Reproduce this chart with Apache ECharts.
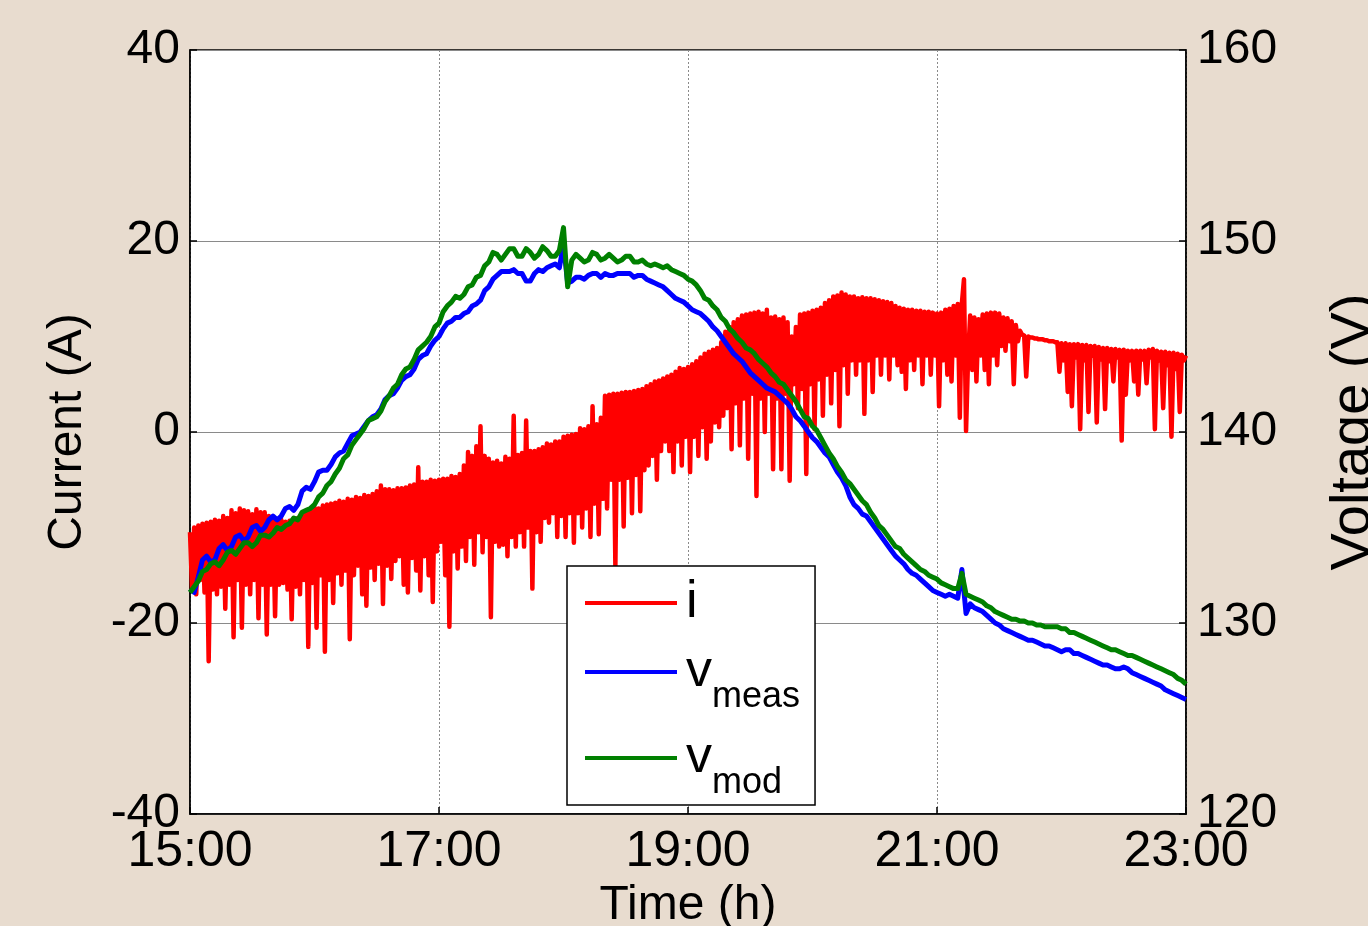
<!DOCTYPE html>
<html>
<head>
<meta charset="utf-8">
<title>Current and voltage</title>
<script src="https://cdn.jsdelivr.net/npm/echarts@6/dist/echarts.min.js"></script>
<style>
  html, body { margin: 0; padding: 0; background: #e8dccf; }
  #chart { width: 1368px; height: 926px; }
</style>
</head>
<body>
<div id="chart"></div>
<script>
// sampling of the logged series, minutes after 15:00
const CURRENT_STEP_MIN = 1
const VOLTAGE_STEP_MIN = 2

const xTickLabels = ["15:00", "17:00", "19:00", "21:00", "23:00"]
const seriesNames = ["i", "v_meas", "v_mod"]

// current i (A), one value per minute, 20 per row
const current = [
  -10.5, -16.5, -10.0, -17.0, -9.8, -15.5, -9.6, -16.8, -9.5, -24.0, -9.4, -16.5, -9.2, -17.0, -9.3, -16.2, -8.8, -18.5, -9.0, -16.0,
  -8.2, -21.5, -8.5, -15.5, -8.0, -20.5, -8.2, -16.0, -8.3, -17.0, -8.6, -15.5, -8.1, -19.5, -8.4, -16.0, -8.4, -21.2, -8.8, -16.0,
  -9.0, -19.3, -9.1, -16.0, -9.2, -15.8, -9.4, -16.5, -9.3, -19.6, -9.1, -16.2, -9.0, -17.0, -8.7, -15.5, -8.4, -22.5, -8.1, -15.8,
  -7.9, -20.5, -8.0, -15.0, -7.7, -23.0, -7.6, -15.5, -7.5, -17.9, -7.4, -14.8, -7.2, -16.0, -7.3, -14.5, -7.0, -21.7, -7.1, -15.0,
  -6.8, -14.0, -6.9, -17.0, -6.6, -18.2, -6.7, -14.2, -6.5, -15.5, -6.2, -13.8, -5.6, -18.0, -6.0, -14.0, -6.0, -15.4, -6.1, -13.5,
  -5.9, -13.0, -5.9, -16.0, -5.8, -16.8, -5.6, -13.2, -5.5, -14.5, -3.7, -16.6, -5.2, -13.0, -5.2, -15.0, -5.0, -17.8, -5.1, -12.5,
  -5.0, -11.5, -4.9, -15.0, -4.9, -20.4, -4.6, -12.5, -4.7, -14.3, -4.4, -12.0, -3.5, -13.5, -2.1, -11.0, -2.5, -13.9, -1.5, -10.5,
  0.6, -12.6, -2.5, -11.0, -2.8, -19.4, -3.2, -11.5, -3.0, -12.0, -3.3, -11.8, -2.6, -13.0, -2.8, -11.0, 1.7, -12.0, -2.4, -10.5,
  -2.2, -12.0, 1.2, -10.0, -2.0, -16.4, -2.0, -10.5, -1.8, -11.5, -1.6, -9.0, -1.2, -9.5, -1.3, -8.5, -1.0, -11.0, -1.0, -8.8,
  -0.5, -11.0, -0.4, -8.5, -0.3, -11.6, -0.2, -8.5, 0.4, -10.0, 0.3, -8.0, 0.6, -11.0, 2.7, -7.5, 0.8, -10.7, 1.5, -7.0,
  3.8, -8.0, 3.9, -5.0, 4.0, -14.0, 4.0, -5.0, 4.1, -9.9, 4.2, -4.8, 4.2, -8.5, 4.3, -4.5, 4.4, -8.3, 4.5, -4.0,
  4.8, -3.5, 5.0, -2.5, 5.3, -5.0, 5.4, -2.0, 5.6, -1.0, 5.8, -2.0, 6.0, -4.2, 6.3, -1.0, 6.7, -3.5, 6.6, -0.5,
  6.8, -4.2, 7.1, -0.5, 7.4, -2.5, 7.8, 0.5, 8.2, -2.8, 8.4, -1.0, 8.6, 1.0, 8.8, 0.5, 9.4, 1.7, 10.5, 2.5,
  11.0, -1.8, 11.5, 3.0, 11.8, -1.4, 12.2, 3.5, 12.3, -2.8, 12.4, 4.0, 12.5, -6.7, 12.6, 3.5, 12.4, 0.0, 12.8, 4.0,
  12.0, -3.9, 12.1, 3.5, 11.8, -3.9, 12.0, 4.0, 11.5, -5.1, 10.0, 5.0, 11.0, 2.5, 12.3, 4.5, 12.4, -4.4, 12.5, 5.0,
  12.7, 0.3, 12.8, 5.5, 13.0, 1.7, 13.5, 6.0, 13.8, 3.0, 14.2, 6.5, 14.3, 0.6, 14.6, 7.0, 14.4, 4.0, 14.2, 7.5,
  14.2, 6.0, 14.0, 7.5, 14.1, 1.9, 14.0, 7.5, 14.0, 4.2, 13.9, 8.0, 13.8, 6.0, 13.7, 8.0, 13.6, 5.5, 13.5, 8.0,
  13.2, 7.0, 13.0, 6.3, 12.9, 4.5, 12.8, 7.5, 12.8, 6.5, 12.7, 8.0, 12.7, 5.0, 12.6, 8.0, 12.6, 6.0, 12.5, 8.0,
  12.4, 2.7, 12.5, 7.5, 12.8, 6.0, 12.9, 5.3, 13.2, 8.0, 13.4, 1.5, 13.5, 16.0, 0.1, 8.0, 12.2, 6.5, 12.0, 5.3,
  11.8, 8.0, 12.3, 6.5, 12.4, 5.0, 12.5, 8.0, 12.5, 7.0, 12.4, 9.0, 12.0, 8.5, 11.9, 9.5, 11.6, 5.0, 11.2, 9.5,
  10.6, 10.2, 10.1, 5.8, 10.0, 9.9, 9.9, 9.8, 9.8, 9.7, 9.7, 9.7, 9.6, 9.6, 9.5, 9.5, 9.5, 9.4, 9.4, 6.3,
  9.3, 7.5, 9.3, 4.2, 9.2, 2.7, 9.2, 7.8, 9.2, 0.3, 9.1, 7.5, 9.1, 2.1, 9.0, 8.0, 9.0, 1.0, 8.9, 7.6,
  8.8, 2.4, 8.8, 7.4, 8.7, 5.3, 8.7, 7.8, 8.6, -0.9, 8.6, 3.9, 8.5, 7.5, 8.5, 5.3, 8.5, 3.9, 8.5, 7.6,
  8.5, 5.1, 8.6, 7.8, 8.7, 0.3, 8.5, 7.5, 8.4, 2.5, 8.4, 7.0, 8.3, -0.5, 8.3, 6.6, 8.2, 2.1, 8.1, 7.5,
  8.0
]

// measured voltage (V), every 2 min, 10 per row
const vMeas = [
  131.8, 131.6, 132.4, 133.3, 133.5, 133.2, 133.3, 133.9, 134.1, 133.8,
  134.0, 134.5, 134.6, 134.3, 134.5, 135.0, 135.1, 134.8, 135.0, 135.4,
  135.6, 135.4, 135.6, 136.0, 136.1, 135.9, 136.2, 136.9, 137.1, 137.0,
  137.4, 137.9, 138.0, 138.0, 138.3, 138.7, 138.9, 139.0, 139.4, 139.8,
  139.9, 140.0, 140.3, 140.6, 140.8, 140.9, 141.2, 141.7, 141.9, 142.0,
  142.3, 142.7, 142.9, 143.0, 143.3, 143.8, 144.0, 144.1, 144.5, 144.8,
  145.0, 145.4, 145.7, 145.8, 146.0, 146.0, 146.2, 146.3, 146.6, 146.7,
  146.9, 147.4, 147.6, 148.0, 148.2, 148.4, 148.4, 148.4, 148.5, 148.3,
  148.3, 147.9, 147.9, 148.3, 148.5, 148.4, 148.6, 148.7, 148.8, 148.6,
  149.8, 147.8, 147.9, 148.1, 148.1, 148.0, 148.2, 148.3, 148.3, 148.1,
  148.3, 148.2, 148.2, 148.3, 148.3, 148.3, 148.3, 148.1, 148.2, 148.2,
  148.0, 147.9, 147.8, 147.7, 147.6, 147.4, 147.2, 147.0, 146.9, 146.8,
  146.6, 146.4, 146.3, 146.2, 146.0, 145.8, 145.5, 145.3, 145.0, 144.7,
  144.4, 144.1, 143.9, 143.7, 143.4, 143.1, 142.9, 142.7, 142.5, 142.3,
  142.2, 142.1, 141.9, 141.7, 141.5, 141.2, 140.8, 140.6, 140.3, 140.0,
  139.7, 139.5, 139.2, 138.9, 138.7, 138.3, 137.9, 137.6, 137.2, 136.6,
  136.2, 136.0, 135.7, 135.6, 135.3, 135.0, 134.7, 134.4, 134.1, 133.8,
  133.5, 133.3, 133.1, 132.8, 132.6, 132.5, 132.3, 132.1, 131.9, 131.7,
  131.6, 131.5, 131.4, 131.5, 131.4, 131.3, 132.8, 130.5, 131.0, 130.8,
  130.7, 130.6, 130.4, 130.2, 130.0, 129.9, 129.7, 129.6, 129.5, 129.4,
  129.3, 129.2, 129.1, 129.1, 129.0, 128.9, 128.8, 128.8, 128.7, 128.6,
  128.5, 128.6, 128.6, 128.4, 128.4, 128.3, 128.2, 128.1, 128.0, 127.9,
  127.8, 127.8, 127.7, 127.6, 127.6, 127.7, 127.6, 127.4, 127.3, 127.2,
  127.1, 127.0, 126.9, 126.8, 126.7, 126.5, 126.4, 126.3, 126.2, 126.1,
  126.0
]

// model voltage (V), every 2 min, 10 per row
const vMod = [
  131.6, 131.9, 132.2, 132.7, 132.8, 133.1, 133.2, 133.0, 133.3, 133.7,
  133.8, 133.6, 133.9, 134.2, 134.2, 134.0, 134.2, 134.6, 134.6, 134.5,
  134.7, 135.0, 134.9, 135.1, 135.2, 135.5, 135.4, 135.8, 135.9, 136.0,
  136.2, 136.6, 136.8, 137.2, 137.4, 137.8, 138.1, 138.6, 138.8, 139.3,
  139.6, 139.9, 140.2, 140.6, 140.7, 140.8, 141.1, 141.6, 141.9, 142.3,
  142.5, 143.0, 143.3, 143.4, 143.8, 144.3, 144.5, 144.7, 145.0, 145.5,
  145.7, 146.3, 146.6, 146.8, 147.1, 147.0, 147.2, 147.6, 147.7, 148.1,
  148.2, 148.7, 148.9, 149.4, 149.3, 149.0, 149.3, 149.6, 149.6, 149.2,
  149.2, 149.6, 149.4, 149.1, 149.3, 149.7, 149.5, 149.2, 149.2, 149.5,
  150.7, 147.6, 149.0, 149.3, 149.1, 148.9, 149.0, 149.4, 149.3, 149.0,
  149.1, 149.3, 149.1, 148.9, 149.0, 149.2, 149.2, 148.9, 148.9, 149.0,
  148.8, 148.7, 148.8, 148.7, 148.6, 148.7, 148.5, 148.4, 148.3, 148.2,
  148.0, 147.9, 147.7, 147.4, 147.0, 146.9, 146.6, 146.4, 146.0, 145.8,
  145.4, 145.2, 144.9, 144.7, 144.4, 144.3, 144.1, 143.8, 143.6, 143.4,
  143.1, 142.9, 142.6, 142.5, 142.2, 141.9, 141.6, 141.2, 140.8, 140.7,
  140.3, 140.1, 139.7, 139.3, 138.9, 138.6, 138.2, 137.9, 137.5, 137.3,
  137.0, 136.7, 136.4, 136.2, 135.8, 135.5, 135.1, 134.9, 134.6, 134.3,
  134.0, 133.9, 133.6, 133.4, 133.2, 133.0, 132.8, 132.7, 132.5, 132.4,
  132.3, 132.1, 132.0, 131.9, 131.8, 131.8, 132.6, 131.5, 131.4, 131.3,
  131.2, 131.1, 130.9, 130.8, 130.6, 130.5, 130.4, 130.3, 130.2, 130.2,
  130.1, 130.1, 130.0, 130.0, 129.9, 129.9, 129.8, 129.8, 129.8, 129.8,
  129.7, 129.7, 129.5, 129.5, 129.4, 129.3, 129.2, 129.1, 129.0, 128.9,
  128.8, 128.7, 128.6, 128.6, 128.5, 128.4, 128.3, 128.3, 128.2, 128.1,
  128.0, 127.9, 127.8, 127.7, 127.6, 127.5, 127.4, 127.3, 127.1, 127.0,
  126.8
]

const FONT = '"Liberation Sans", Arial, sans-serif'

// x in hours after 15:00
function toPairs(values, stepMin) {
  return values.map((v, k) => [(k * stepMin) / 60, v])
}

function lineSeries(name, values, stepMin, color, axis, width) {
  return {
    name,
    type: "line",
    yAxisIndex: axis,
    data: toPairs(values, stepMin),
    symbol: "none",
    showSymbol: false,
    silent: true,
    lineStyle: { color, width, join: "round" },
    itemStyle: { color },
    emphasis: { disabled: true },
  }
}

const chart = echarts.init(document.getElementById("chart"))

chart.setOption({
  backgroundColor: "#e8dccf",
  animation: false,
  textStyle: { fontFamily: FONT, color: "#000" },
  grid: {
    left: 190, right: 182, top: 50, bottom: 112,
    outerBoundsMode: "none",
    show: true, backgroundColor: "#fff", borderColor: "#000", borderWidth: 1.5,
  },
  legend: {
    orient: "vertical",
    left: 567,
    top: 566,
    data: seriesNames,
    icon: "rect",
    itemWidth: 92,
    itemHeight: 4,
    itemGap: 0,
    padding: [11, 15, 4, 18],
    backgroundColor: "#fff",
    borderColor: "#000",
    borderWidth: 1.5,
    borderRadius: 0,
    selectedMode: false,
    formatter: (name) => name === "i" ? "{i|i}" : "{v|v}{s|" + name.slice(2) + "}",
    textStyle: {
      color: "#000",
      fontFamily: FONT,
      rich: {
        i: { fontSize: 52, lineHeight: 58, padding: [0, 0, 0, 4] },
        v: { fontSize: 52, lineHeight: 52, padding: [0, 0, 0, 4] },
        s: { fontSize: 36, lineHeight: 36, padding: [50, 0, 0, 0] },
      },
    },
  },
  xAxis: {
    type: "value",
    min: 0,
    max: 8,
    interval: 2,
    name: "Time (h)",
    nameLocation: "middle",
    nameGap: 65,
    nameTextStyle: { fontSize: 48, color: "#000", fontFamily: FONT },
    axisLine: { onZero: false, lineStyle: { color: "#000", width: 1.5 } },
    axisTick: { inside: true, length: 7, lineStyle: { color: "#000", width: 1.5 } },
    axisLabel: {
      fontSize: 50, color: "#000", margin: 13, showMinLabel: true, showMaxLabel: true,
      formatter: (v) => xTickLabels[Math.round(v / 2)],
    },
    splitLine: { lineStyle: { color: "#8a8a8a", type: [2, 2], width: 1 } },
  },
  yAxis: [
    {
      type: "value",
      position: "left",
      min: -40,
      max: 40,
      interval: 20,
      name: "Current (A)",
      nameLocation: "middle",
      nameGap: 98,
      nameTextStyle: { fontSize: 48, color: "#000", fontFamily: FONT },
      axisLine: { show: true, onZero: false, lineStyle: { color: "#000", width: 1.5 } },
      axisTick: { show: true, inside: true, length: 7, lineStyle: { color: "#000", width: 1.5 } },
      axisLabel: { fontSize: 48, color: "#000", margin: 10 },
      splitLine: { lineStyle: { color: "#8a8a8a", width: 1 } },
    },
    {
      type: "value",
      position: "right",
      min: 120,
      max: 160,
      interval: 10,
      name: "Voltage (V)",
      nameLocation: "middle",
      nameGap: 140,
      nameTextStyle: { fontSize: 56, color: "#000", fontFamily: FONT },
      axisLine: { show: true, onZero: false, lineStyle: { color: "#000", width: 1.5 } },
      axisTick: { show: true, inside: true, length: 7, lineStyle: { color: "#000", width: 1.5 } },
      axisLabel: { fontSize: 48, color: "#000", margin: 11 },
      splitLine: { show: false },
    },
  ],
  series: [
    lineSeries("i", current, CURRENT_STEP_MIN, "#ff0000", 0, 4.5),
    lineSeries("v_meas", vMeas, VOLTAGE_STEP_MIN, "#0000ff", 1, 5),
    lineSeries("v_mod", vMod, VOLTAGE_STEP_MIN, "#008000", 1, 5),
  ],
})
</script>
</body>
</html>
